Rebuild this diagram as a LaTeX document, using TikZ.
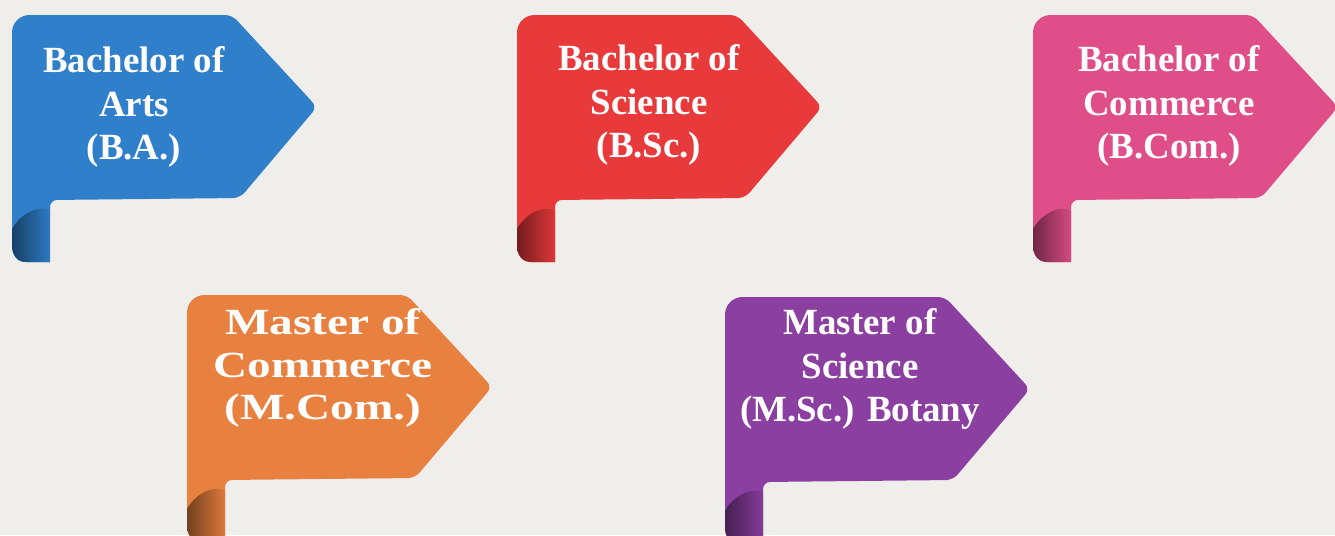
\documentclass[tikz,border=0pt]{standalone}
\usepackage{fontspec}
\setmainfont{Liberation Serif}
\newfontfamily\widefont[FakeStretch=1.28]{Liberation Serif}
\usetikzlibrary{positioning}
\definecolor{paper}{HTML}{EFEEEB}
\definecolor{bablue}{HTML}{2F7FCB}
\definecolor{bscred}{HTML}{E8393B}
\definecolor{bcompink}{HTML}{DF4E88}
\definecolor{mcomorange}{HTML}{E8803F}
\definecolor{mscpurple}{HTML}{8B3FA1}
\tikzset{
    pics/ribbon/.style={
        code={
            % body with the arrow head
            \fill[#1] (0,120) [rounded corners=10] -- (0,0) [rounded corners=4] -- (220,0) -- (305,92) -- (228,183) -- (38,185) [sharp corners] -- (38,247) -- (14,247) .. controls (5,247) and (0,240) .. (0,230) -- cycle;
            % rolled end
            \shade[left color=#1!50!black, right color=#1!95!black]
                (0,214) .. controls (10,196) and (30,190) .. (38,196) -- (38,247) -- (14,247) .. controls (5,247) and (0,240) .. (0,230) -- cycle;
        }
    }
}
\begin{document}
\begin{tikzpicture}[x=0.02cm, y=-0.02cm]
    \tikzstyle{every node}=[text=white, align=center, font=\bfseries\fontsize{21}{25}\selectfont];
    \fill[paper] (0,0) rectangle (1335,535);
    \useasboundingbox (0,0) rectangle (1335,535);
    \pic at (12,15) {ribbon=bablue};
    \pic at (517,15) {ribbon=bscred};
    \pic at (1033,15) {ribbon=bcompink};
    \pic at (187,295) {ribbon=mcomorange};
    \pic at (725,297) {ribbon=mscpurple};
    \node (ba) at (134,107) {Bachelor of\\Arts\\(B.A.)};
    \node (bsc) at (649,105) {Bachelor of\\Science\\(B.Sc.)};
    \node (bcom) at (1169,106) {Bachelor of\\Commerce\\(B.Com.)};
    \node[font=\widefont\bfseries\fontsize{21}{24}\selectfont] (mcom) at (323,368) {Master of\\Commerce\\(M.Com.)};
    \node (msc) at (860,369) {Master of\\Science\\(M.Sc.) Botany};
\end{tikzpicture}
\end{document}
